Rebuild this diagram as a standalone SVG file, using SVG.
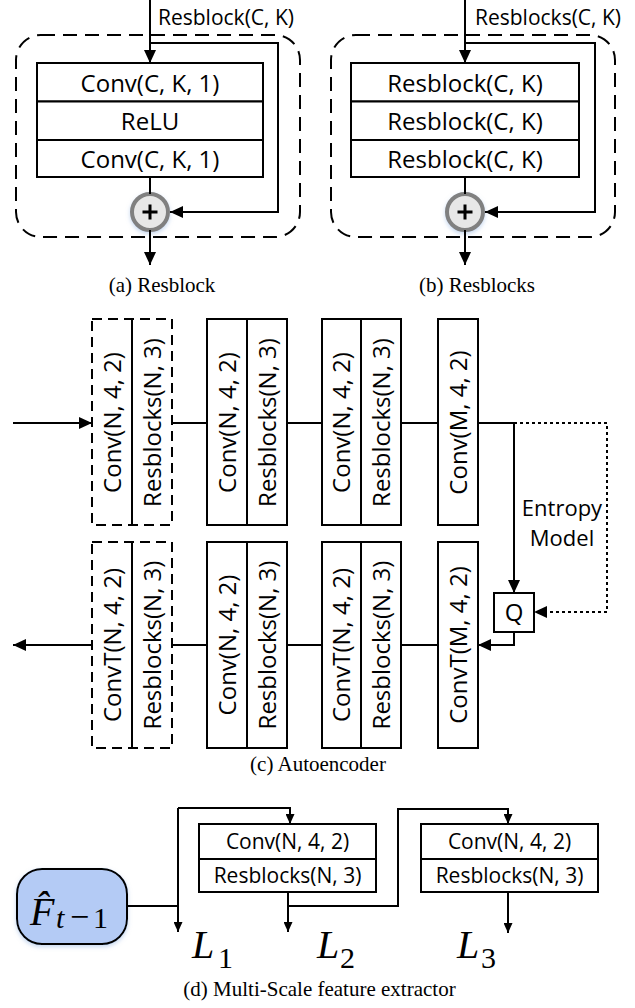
<svg xmlns="http://www.w3.org/2000/svg" width="635" height="1008" viewBox="0 0 635 1008">
<defs>
<style>
.bx{fill:#fff;stroke:#000;stroke-width:2}
.ln{fill:none;stroke:#000;stroke-width:2}
.dl{fill:none;stroke:#000;stroke-width:2;stroke-dasharray:14 8}
.dc{fill:none;stroke:#000;stroke-width:2;stroke-dasharray:10 6}
.dot{fill:none;stroke:#000;stroke-width:2;stroke-dasharray:3 3}
.s24{font-family:'Open Sans',sans-serif;font-size:24px;fill:#000}
.s22{font-family:'Open Sans',sans-serif;font-size:22px;fill:#000}
.s21{font-family:'Open Sans',sans-serif;font-size:21px;fill:#000}
.cap{font-family:'Liberation Serif',serif;font-size:21px;fill:#000}
.m{font-family:'Liberation Serif',serif;fill:#000}
.mid{text-anchor:middle}
.add{fill:#e7e7e7;stroke:#808080;stroke-width:4}
.plus{fill:none;stroke:#000;stroke-width:3}
</style>
<marker id="a" markerUnits="userSpaceOnUse" markerWidth="13" markerHeight="12" refX="13" refY="6" orient="auto"><path d="M0,0L13,6L0,12z" fill="#000"/></marker>
<marker id="b" markerUnits="userSpaceOnUse" markerWidth="10" markerHeight="9" refX="10" refY="4.5" orient="auto"><path d="M0,0L10,4.5L0,9z" fill="#000"/></marker>
<filter id="sh" x="-30%" y="-30%" width="160%" height="170%"><feDropShadow dx="0" dy="2" stdDeviation="2" flood-color="#8fb0e0" flood-opacity="0.5"/></filter>
</defs>

<!-- Panel (a) -->
<g id="a-frame"><rect class="dl" x="16" y="35" width="284" height="202" rx="25"/></g>
<g id="a-conv1"><rect class="bx" x="37" y="63" width="226" height="38.5"/><text class="s24 mid" x="150" y="91.5">Conv(C, K, 1)</text></g>
<g id="a-relu"><rect class="bx" x="37" y="101.5" width="226" height="38.5"/><text class="s24 mid" x="150" y="130">ReLU</text></g>
<g id="a-conv2"><rect class="bx" x="37" y="140" width="226" height="37"/><text class="s24 mid" x="150" y="168">Conv(C, K, 1)</text></g>
<g id="a-add"><circle class="add" cx="150" cy="212" r="18" filter="url(#sh)"/><path class="plus" d="M142.5,212h15M150,204.5v15"/></g>
<text class="s21" x="158" y="25">Resblock(C, K)</text>
<text class="cap mid" x="162" y="292">(a) Resblock</text>

<!-- Panel (b) -->
<g id="b-frame"><rect class="dl" x="331" y="35" width="284" height="202" rx="25"/></g>
<g id="b-res1"><rect class="bx" x="351" y="63" width="228" height="38.5"/><text class="s24 mid" x="465" y="91.5">Resblock(C, K)</text></g>
<g id="b-res2"><rect class="bx" x="351" y="101.5" width="228" height="38.5"/><text class="s24 mid" x="465" y="130">Resblock(C, K)</text></g>
<g id="b-res3"><rect class="bx" x="351" y="140" width="228" height="37"/><text class="s24 mid" x="465" y="168">Resblock(C, K)</text></g>
<g id="b-add"><circle class="add" cx="465" cy="212" r="18" filter="url(#sh)"/><path class="plus" d="M457.5,212h15M465,204.5v15"/></g>
<text class="s21" x="475" y="25">Resblocks(C, K)</text>
<text class="cap mid" x="477" y="292">(b) Resblocks</text>

<!-- Panel (c) encoder -->
<g id="enc1"><rect class="dc" x="92" y="319" width="80" height="206"/><line class="ln" x1="132" y1="319" x2="132" y2="525"/>
<text class="s24 mid" transform="translate(120.5,422.5) rotate(-90)">Conv(N, 4, 2)</text>
<text class="s24 mid" transform="translate(160.5,422.5) rotate(-90)">Resblocks(N, 3)</text></g>
<g id="enc2"><rect class="bx" x="207" y="319" width="40" height="206"/><rect class="bx" x="247" y="319" width="40" height="206"/>
<text class="s24 mid" transform="translate(235.5,422.5) rotate(-90)">Conv(N, 4, 2)</text>
<text class="s24 mid" transform="translate(275.5,422.5) rotate(-90)">Resblocks(N, 3)</text></g>
<g id="enc3"><rect class="bx" x="322" y="319" width="39" height="206"/><rect class="bx" x="361" y="319" width="40" height="206"/>
<text class="s24 mid" transform="translate(350,422.5) rotate(-90)">Conv(N, 4, 2)</text>
<text class="s24 mid" transform="translate(389.5,422.5) rotate(-90)">Resblocks(N, 3)</text></g>
<g id="enc4"><rect class="bx" x="438" y="319" width="40" height="206"/>
<text class="s24 mid" transform="translate(466.5,422.5) rotate(-90)">Conv(M, 4, 2)</text></g>

<!-- Panel (c) decoder -->
<g id="dec1"><rect class="dc" x="92" y="542" width="80" height="206"/><line class="ln" x1="132" y1="542" x2="132" y2="748"/>
<text class="s24 mid" transform="translate(120.5,645) rotate(-90)">ConvT(N, 4, 2)</text>
<text class="s24 mid" transform="translate(160.5,645) rotate(-90)">Resblocks(N, 3)</text></g>
<g id="dec2"><rect class="bx" x="207" y="542" width="40" height="206"/><rect class="bx" x="247" y="542" width="40" height="206"/>
<text class="s24 mid" transform="translate(235.5,645) rotate(-90)">Conv(N, 4, 2)</text>
<text class="s24 mid" transform="translate(275.5,645) rotate(-90)">Resblocks(N, 3)</text></g>
<g id="dec3"><rect class="bx" x="322" y="542" width="39" height="206"/><rect class="bx" x="361" y="542" width="40" height="206"/>
<text class="s24 mid" transform="translate(350,645) rotate(-90)">ConvT(N, 4, 2)</text>
<text class="s24 mid" transform="translate(389.5,645) rotate(-90)">Resblocks(N, 3)</text></g>
<g id="dec4"><rect class="bx" x="438" y="542" width="40" height="206"/>
<text class="s24 mid" transform="translate(466.5,645) rotate(-90)">ConvT(M, 4, 2)</text></g>
<g id="quant"><rect class="bx" x="494" y="593" width="40" height="39"/><text class="s24 mid" x="514" y="621">Q</text></g>
<g id="entropy"><text class="s22 mid" x="562" y="516">Entropy</text><text class="s22 mid" x="562" y="546">Model</text></g>
<text class="cap mid" x="318" y="771">(c) Autoencoder</text>

<!-- Panel (d) -->
<g id="fhat"><rect x="17" y="869" width="110" height="75" rx="25" fill="#b4cbf5" stroke="#000" stroke-width="2" filter="url(#sh)"/>
<text class="m" y="925" font-size="40"><tspan x="30" font-style="italic">F̂</tspan><tspan x="56" y="928" font-size="30" font-style="italic">t</tspan><tspan x="70" y="928" font-size="34">−</tspan><tspan x="93" y="928" font-size="30">1</tspan></text></g>
<g id="ext1"><rect class="bx" x="199" y="824" width="177" height="35"/><rect class="bx" x="199" y="859" width="177" height="33"/>
<text class="s21 mid" x="287.5" y="849">Conv(N, 4, 2)</text><text class="s21 mid" x="287.5" y="883">Resblocks(N, 3)</text></g>
<g id="ext2"><rect class="bx" x="421" y="824" width="177" height="35"/><rect class="bx" x="421" y="859" width="177" height="33"/>
<text class="s21 mid" x="509.5" y="849">Conv(N, 4, 2)</text><text class="s21 mid" x="509.5" y="883">Resblocks(N, 3)</text></g>
<g id="L1"><text class="m" y="958" font-size="40"><tspan font-style="italic" x="192">L</tspan><tspan x="218" y="968" font-size="30">1</tspan></text></g>
<g id="L2"><text class="m" y="958" font-size="40"><tspan font-style="italic" x="317">L</tspan><tspan x="340" y="968" font-size="30">2</tspan></text></g>
<g id="L3"><text class="m" y="958" font-size="40"><tspan font-style="italic" x="457">L</tspan><tspan x="481" y="968" font-size="30">3</tspan></text></g>
<text class="cap mid" x="319.5" y="996">(d) Multi-Scale feature extractor</text>

<g id="connectors">
<path class="ln" d="M150,0V63" marker-end="url(#a)"/>
<path class="ln" d="M150,43H278V212H170" marker-end="url(#a)"/>
<path class="ln" d="M150,177V194"/>
<path class="ln" d="M150,230V265" marker-end="url(#a)"/>
<path class="ln" d="M465,0V63" marker-end="url(#a)"/>
<path class="ln" d="M465,43H595V212H485" marker-end="url(#a)"/>
<path class="ln" d="M465,177V194"/>
<path class="ln" d="M465,230V265" marker-end="url(#a)"/>

<path class="ln" d="M13,423H92" marker-end="url(#a)"/>
<path class="ln" d="M172,423H207M287,423H322M401,423H438"/>
<path class="ln" d="M478,423H514V593" marker-end="url(#a)"/>
<path class="dot" d="M514,423H607V612H534" marker-end="url(#a)"/>
<path class="ln" d="M514,632V645H478" marker-end="url(#a)"/>
<path class="ln" d="M438,645H401M322,645H287M207,645H172"/>
<path class="ln" d="M92,645H13" marker-end="url(#a)"/>

<path class="ln" d="M127,906H178"/>
<path class="ln" d="M178,808V932" marker-end="url(#b)"/>
<path class="ln" d="M178,808H290V824" marker-end="url(#b)"/>
<path class="ln" d="M288,892V932" marker-end="url(#b)"/>
<path class="ln" d="M288,906H398V809H508V824" marker-end="url(#b)"/>
<path class="ln" d="M508,892V933" marker-end="url(#b)"/>
</g>
</svg>
